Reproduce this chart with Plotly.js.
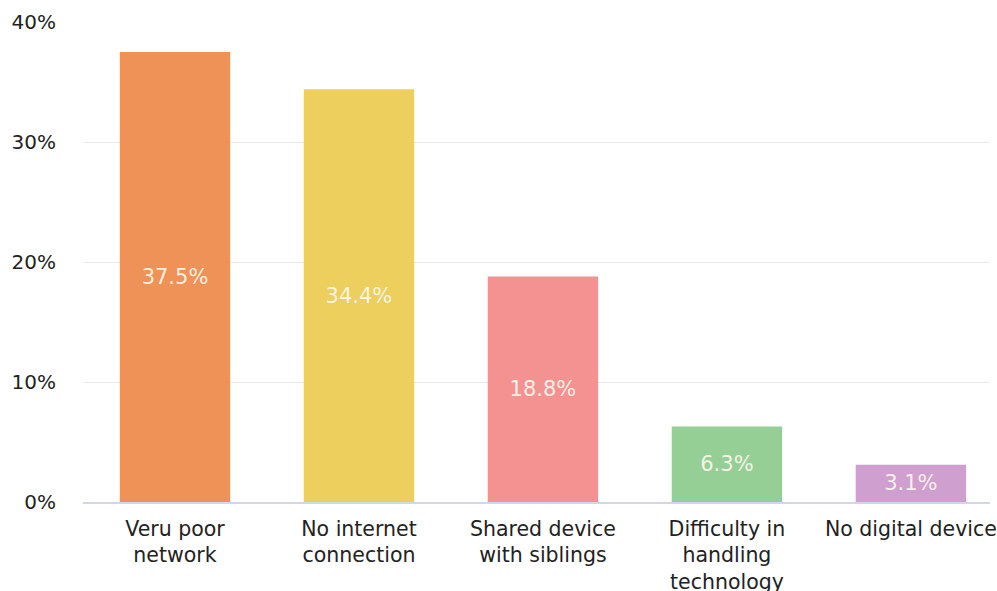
<!DOCTYPE html>
<html>
<head>
<meta charset="utf-8">
<script src="https://cdn.plot.ly/plotly-3.0.1.min.js"></script>
<style>html,body{margin:0;padding:0;background:#fff;}#chart{width:997px;height:591px;}</style>
</head>
<body>
<div id="chart"></div>
<script>
const categories = ["Veru poor<br>network", "No internet<br>connection", "Shared device<br>with siblings", "Difficulty in<br>handling<br>technology", "No digital device"];
const values = [37.5, 34.4, 18.8, 6.3, 3.1];
const labels = ["37.5%", "34.4%", "18.8%", "6.3%", "3.1%"];
const colors = ["#EE9257", "#ECCF5C", "#F49191", "#96CF96", "#CFA0CF"];
const yTicks = [0, 10, 20, 30, 40];
const yTickText = ["0%", "10%", "20%", "30%", "40%"];

const trace = {
  type: "bar",
  x: categories,
  y: values,
  text: labels,
  texttemplate: "%{text}",
  textposition: "inside",
  insidetextanchor: "middle",
  textangle: 0,
  textfont: {family: "DejaVu Sans", size: 21, color: "rgba(255,250,240,0.92)"},
  marker: {color: colors},
  hoverinfo: "none"
};

const layout = {
  width: 997, height: 591,
  margin: {l: 83, r: 7, t: 22, b: 89},
  paper_bgcolor: "#fff", plot_bgcolor: "#fff",
  bargap: 0.4,
  showlegend: false,
  font: {family: "DejaVu Sans", color: "#222"},
  xaxis: {
    range: [-0.5, 4.43],
    showgrid: false,
    showline: true, linecolor: "#d3d6e8", linewidth: 2,
    ticks: "",
    ticklabelstandoff: 7,
    tickfont: {family: "DejaVu Sans", size: 20.5, color: "#222"},
    automargin: false
  },
  yaxis: {
    range: [0, 40],
    tickvals: yTicks, ticktext: yTickText,
    showgrid: true, gridcolor: "#e9e9ee", gridwidth: 1,
    zeroline: false, showline: false, ticks: "",
    ticklabelstandoff: 26,
    tickfont: {family: "DejaVu Sans", size: 20, color: "#222"},
    automargin: false
  }
};

Plotly.newPlot("chart", [trace], layout, {displayModeBar: false, staticPlot: true});
</script>
</body>
</html>
